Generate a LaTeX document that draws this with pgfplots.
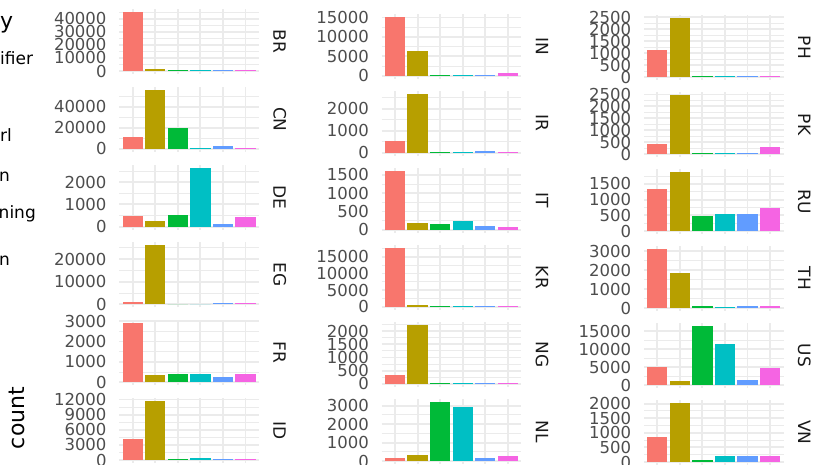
\documentclass[border=0pt]{standalone}
\usepackage{fontspec}
\setmainfont{DejaVu Sans}
\usepackage{pgfplots}
\pgfplotsset{compat=1.18}
\definecolor{c1}{HTML}{F8766D}
\definecolor{c2}{HTML}{B79F00}
\definecolor{c3}{HTML}{00BA38}
\definecolor{c4}{HTML}{00BFC4}
\definecolor{c5}{HTML}{619CFF}
\definecolor{c6}{HTML}{F564E3}
\definecolor{gridc}{HTML}{EBEBEB}
\definecolor{tickc}{HTML}{4D4D4D}
\definecolor{stripc}{HTML}{1A1A1A}
\pgfplotsset{
  panel/.style={
    width=139.8bp, height=64.9bp, scale only axis, anchor=north west,
    xmin=0.4, xmax=6.6, xtick={1,2,3,4,5,6}, xticklabels={},
    axis line style={draw=none}, major tick length=0pt, minor tick length=0pt,
    xmajorgrids, ymajorgrids, yminorgrids,
    major grid style={gridc, line width=1.9bp},
    minor grid style={gridc, line width=0.95bp},
    scaled y ticks=false,
    /pgf/number format/1000 sep={},
    /pgf/number format/assume math mode=true,
    yticklabel style={font=\fontsize{16.5bp}{18bp}\selectfont, text=tickc, inner sep=0pt, anchor=east, xshift=-12.5bp},
    clip=false,
  },
  b/.style={ybar, bar width=0.9, bar shift=0pt, fill=#1, draw=none},
}
\newcommand{\bars}[6]{%
  \addplot[b=c1] coordinates {(1,#1)};
  \addplot[b=c2] coordinates {(2,#2)};
  \addplot[b=c3] coordinates {(3,#3)};
  \addplot[b=c4] coordinates {(4,#4)};
  \addplot[b=c5] coordinates {(5,#5)};
  \addplot[b=c6] coordinates {(6,#6)};
}
\newcommand{\strip}[1]{\node[rotate=-90, inner sep=0pt, font=\fontsize{17bp}{19bp}\selectfont, text=stripc] at ([xshift=20.7bp]rel axis cs:1,0.5) {#1};}
\begin{document}
\begin{tikzpicture}
\path[use as bounding box] (0,0) rectangle (815bp,-465bp);
\clip (0,0) rectangle (815bp,-465bp);

% legend fragments and axis title
\node[anchor=base east, inner sep=0pt, font=\fontsize{22bp}{24bp}\selectfont] at (13.3bp,-28bp) {y};
\node[anchor=base east, inner sep=0pt, font=\fontsize{17bp}{19bp}\selectfont] at (33.3bp,-64.3bp) {ifier};
\node[anchor=base east, inner sep=0pt, font=\fontsize{17bp}{19bp}\selectfont] at (12bp,-141.7bp) {rl};
\node[anchor=base east, inner sep=0pt, font=\fontsize{17bp}{19bp}\selectfont] at (10bp,-181.7bp) {n};
\node[anchor=base east, inner sep=0pt, font=\fontsize{17bp}{19bp}\selectfont] at (36bp,-218.3bp) {ning};
\node[anchor=base east, inner sep=0pt, font=\fontsize{17bp}{19bp}\selectfont] at (10bp,-265bp) {n};
\node[rotate=90, anchor=base, inner sep=0pt, font=\fontsize{22bp}{24bp}\selectfont] at (24bp,-418bp) {count};

% ---------- column 1 ----------
\begin{axis}[panel, at={(119.2bp,-9.05bp)}, ymin=-2250, ymax=47250,
  ytick={0,10000,20000,30000,40000}, minor ytick={5000,15000,25000,35000,45000}]
\bars{45000}{1200}{500}{500}{1000}{450}
\strip{BR}
\end{axis}
\begin{axis}[panel, at={(119.2bp,-86.85bp)}, ymin=-2815, ymax=59115,
  ytick={0,20000,40000}, minor ytick={10000,30000,50000}]
\bars{11460}{56300}{20060}{800}{2900}{800}
\strip{CN}
\end{axis}
\begin{axis}[panel, at={(119.2bp,-164.65bp)}, ymin=-133, ymax=2793,
  ytick={0,1000,2000}, minor ytick={500,1500,2500}]
\bars{493}{270}{538}{2660}{135}{448}
\strip{DE}
\end{axis}
\begin{axis}[panel, at={(119.2bp,-242.45bp)}, ymin=-1300, ymax=27300,
  ytick={0,10000,20000}, minor ytick={5000,15000,25000}]
\bars{880}{26000}{0}{0}{440}{400}
\strip{EG}
\end{axis}
\begin{axis}[panel, at={(119.2bp,-320.25bp)}, ymin=-145, ymax=3045,
  ytick={0,1000,2000,3000}, minor ytick={500,1500,2500}]
\bars{2900}{345}{390}{390}{250}{400}
\strip{FR}
\end{axis}
\begin{axis}[panel, at={(119.2bp,-398.05bp)}, ymin=-585, ymax=12285,
  ytick={0,3000,6000,9000,12000}, minor ytick={1500,4500,7500,10500}]
\bars{4160}{11700}{200}{400}{150}{150}
\strip{ID}
\end{axis}

% ---------- column 2 ----------
\begin{axis}[panel, at={(381.5bp,-13.75bp)}, ymin=-760, ymax=15960,
  ytick={0,5000,10000,15000}, minor ytick={2500,7500,12500}]
\bars{15200}{6400}{250}{250}{250}{600}
\strip{IN}
\end{axis}
\begin{axis}[panel, at={(381.5bp,-90.8bp)}, ymin=-134, ymax=2814,
  ytick={0,1000,2000}, minor ytick={500,1500,2500}]
\bars{545}{2680}{40}{40}{100}{40}
\strip{IR}
\end{axis}
\begin{axis}[panel, at={(381.5bp,-167.9bp)}, ymin=-80.5, ymax=1690.5,
  ytick={0,500,1000,1500}, minor ytick={250,750,1250}]
\bars{1610}{195}{165}{230}{110}{80}
\strip{IT}
\end{axis}
\begin{axis}[panel, at={(381.5bp,-244.9bp)}, ymin=-885, ymax=18585,
  ytick={0,5000,10000,15000}, minor ytick={2500,7500,12500,17500}]
\bars{17700}{600}{300}{300}{300}{300}
\strip{KR}
\end{axis}
\begin{axis}[panel, at={(381.5bp,-322.0bp)}, ymin=-111.5, ymax=2341.5,
  ytick={0,500,1000,1500,2000}, minor ytick={250,750,1250,1750,2250}]
\bars{340}{2230}{20}{20}{20}{40}
\strip{NG}
\end{axis}
\begin{axis}[panel, at={(381.5bp,-399.05bp)}, ymin=-160, ymax=3360,
  ytick={0,1000,2000,3000}, minor ytick={500,1500,2500}]
\bars{180}{340}{3200}{2930}{180}{285}
\strip{NL}
\end{axis}

% ---------- column 3 ----------
\begin{axis}[panel, at={(643.8bp,-15.05bp)}, ymin=-123.5, ymax=2593.5,
  ytick={0,500,1000,1500,2000,2500}, minor ytick={250,750,1250,1750,2250}]
\bars{1130}{2470}{40}{40}{40}{40}
\strip{PH}
\end{axis}
\begin{axis}[panel, at={(643.8bp,-92.05bp)}, ymin=-124, ymax=2604,
  ytick={0,500,1000,1500,2000,2500}, minor ytick={250,750,1250,1750,2250}]
\bars{420}{2480}{40}{40}{40}{295}
\strip{PK}
\end{axis}
\begin{axis}[panel, at={(643.8bp,-169.05bp)}, ymin=-94, ymax=1974,
  ytick={0,500,1000,1500}, minor ytick={250,750,1250,1750}]
\bars{1340}{1880}{478}{542}{542}{733}
\strip{RU}
\end{axis}
\begin{axis}[panel, at={(643.8bp,-246.05bp)}, ymin=-155, ymax=3260,
  ytick={0,1000,2000,3000}, minor ytick={500,1500,2500}]
\bars{3105}{1840}{105}{50}{105}{105}
\strip{TH}
\end{axis}
\begin{axis}[panel, at={(643.8bp,-323.05bp)}, ymin=-825, ymax=17325,
  ytick={0,5000,10000,15000}, minor ytick={2500,7500,12500}]
\bars{4950}{1100}{16500}{11400}{1375}{4675}
\strip{US}
\end{axis}
\begin{axis}[panel, at={(643.8bp,-400.05bp)}, ymin=-101, ymax=2121,
  ytick={0,500,1000,1500,2000}, minor ytick={250,750,1250,1750}]
\bars{856}{2020}{69}{205}{205}{205}
\strip{VN}
\end{axis}
\end{tikzpicture}
\end{document}
